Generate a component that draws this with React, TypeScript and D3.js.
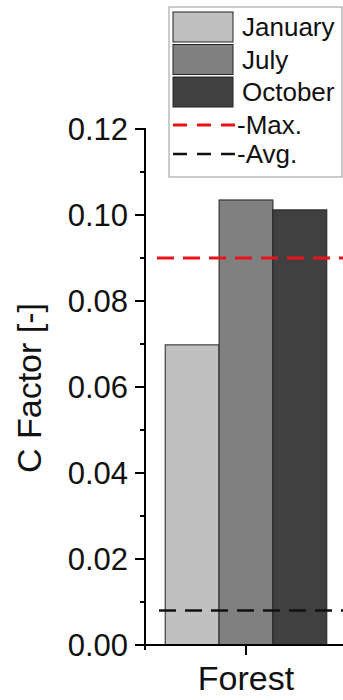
import React from 'react';
import * as d3 from 'd3';

// values
const categories = ['Forest'];
const months = ['January', 'July', 'October'];
const cFactor = [0.0698, 0.1035, 0.1012];
const monthColors = ['#c0c0c0', '#808080', '#404040'];
const maxValue = 0.09;
const avgValue = 0.008;
const yTicks = [0, 0.02, 0.04, 0.06, 0.08, 0.1, 0.12];

const FONT = '"Liberation Sans", Arial, sans-serif';

export default function App() {
    const width = 343;
    const height = 700;

    const y = d3.scaleLinear().domain([0, 0.12]).range([645, 129]);
    const x0 = d3.scaleBand().domain(categories).range([145, 347]).paddingOuter(0.125);
    const x1 = d3.scaleBand().domain(months).range([0, x0.bandwidth()]);
    const minorTicks = d3.range(0.01, 0.12, 0.02);

    const legendRows = [27, 59.5, 92, 125, 154];

    return (
        <div style={{ position: 'absolute', left: 0, top: 0 }}>
            <svg width={width} height={height} style={{ display: 'block' }} fontFamily={FONT}>
                <rect width={width} height={height} fill="#fff" />

                {/* bars */}
                {categories.map(cat => (
                    <g key={cat} transform={`translate(${x0(cat)},0)`}>
                        {months.map((m, i) => (
                            <rect key={m}
                                x={x1(m)}
                                y={y(cFactor[i])}
                                width={x1.bandwidth()}
                                height={y(0) - y(cFactor[i])}
                                fill={monthColors[i]}
                                stroke="#222"
                                strokeWidth={1} />
                        ))}
                    </g>
                ))}

                {/* reference lines */}
                <line x1={157} x2={width} y1={y(maxValue)} y2={y(maxValue)}
                    stroke="#e8141c" strokeWidth={3} strokeDasharray="17,9" />
                <line x1={159} x2={width} y1={y(avgValue)} y2={y(avgValue)}
                    stroke="#111" strokeWidth={2.5} strokeDasharray="17,9" />

                {/* y axis */}
                <line x1={145} x2={145} y1={y(0.12) - 1} y2={y(0) + 5} stroke="#000" strokeWidth={2} />
                {yTicks.map(t => (
                    <g key={t}>
                        <line x1={135} x2={145} y1={y(t)} y2={y(t)} stroke="#000" strokeWidth={2} />
                        <text x={128} y={y(t)} dy="0.36em" textAnchor="end" fontSize={31} fill="#111">
                            {d3.format('.2f')(t)}
                        </text>
                    </g>
                ))}
                {minorTicks.map(t => (
                    <line key={t} x1={140} x2={145} y1={y(t)} y2={y(t)} stroke="#000" strokeWidth={2} />
                ))}
                <text x={41} y={388} transform="rotate(-90,41,388)" textAnchor="middle" fontSize={34} fill="#111">
                    C Factor [-]
                </text>

                {/* x axis */}
                <line x1={135} x2={width} y1={y(0)} y2={y(0)} stroke="#000" strokeWidth={2} />
                {categories.map(cat => {
                    const cx = (x0(cat) as number) + x0.bandwidth() / 2;
                    return (
                        <g key={cat}>
                            <line x1={cx} x2={cx} y1={y(0)} y2={y(0) + 10} stroke="#000" strokeWidth={2} />
                            <text x={cx} y={690} textAnchor="middle" fontSize={34} fill="#111">{cat}</text>
                        </g>
                    );
                })}

                {/* legend */}
                <rect x={169} y={7} width={173} height={170} fill="#fff" stroke="#999" strokeWidth={1} />
                {months.map((m, i) => (
                    <g key={m}>
                        <rect x={173} y={legendRows[i] - 15} width={60} height={30}
                            fill={monthColors[i]} stroke="#222" strokeWidth={1} />
                        <text x={242} y={legendRows[i]} dy="0.36em" fontSize={26} fill="#111">{m}</text>
                    </g>
                ))}
                <line x1={173} x2={235} y1={legendRows[3]} y2={legendRows[3]}
                    stroke="#e8141c" strokeWidth={3} strokeDasharray="14,10" />
                <text x={237} y={legendRows[3]} dy="0.36em" fontSize={26} fill="#111">-Max.</text>
                <line x1={173} x2={235} y1={legendRows[4]} y2={legendRows[4]}
                    stroke="#111" strokeWidth={2.5} strokeDasharray="14,10" />
                <text x={237} y={legendRows[4]} dy="0.36em" fontSize={26} fill="#111">-Avg.</text>
            </svg>
        </div>
    );
}
